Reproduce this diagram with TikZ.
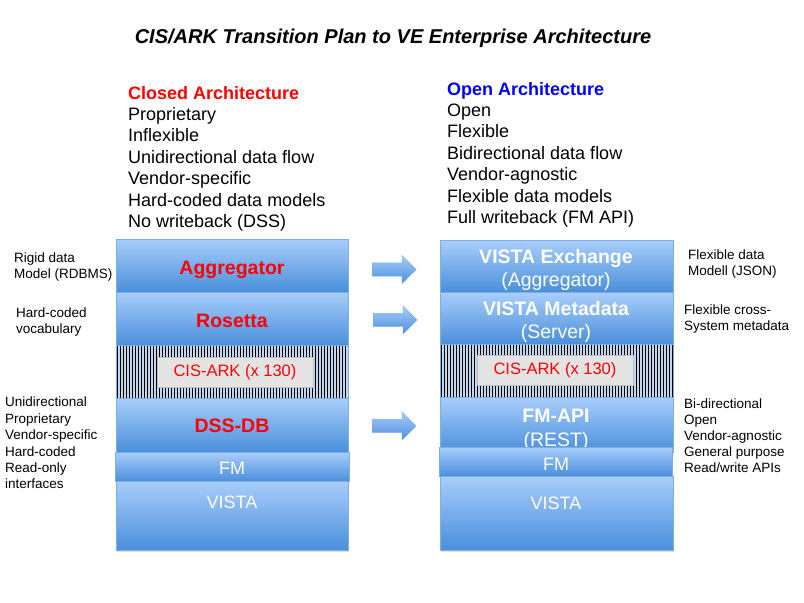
\documentclass[tikz,border=0pt]{standalone}
\usepackage{fontspec}
\setmainfont{Liberation Sans}
\usetikzlibrary{shapes.arrows,shadows,patterns.meta}

\definecolor{layertop}{HTML}{A8CDFB}
\definecolor{layerbot}{HTML}{4A8FDB}
\definecolor{layeredge}{HTML}{7FAEE3}
\definecolor{hatchbg}{HTML}{C2D6EE}
\definecolor{arkgray}{HTML}{E3E3E3}
\definecolor{openblue}{HTML}{0000FF}

\begin{document}
\begin{tikzpicture}[x=1pt,y=-1pt,
    layer/.style={draw=layeredge, top color=layertop, bottom color=layerbot,
        anchor=north west, inner sep=0pt, minimum width=232pt,
        drop shadow={shadow xshift=0.5pt, shadow yshift=-1.5pt, opacity=0.25}},
    oldtext/.style={anchor=base, inner sep=0pt, text=red, font=\fontsize{19.5}{22}\selectfont\bfseries},
    newtext/.style={anchor=base, inner sep=0pt, text=white, font=\fontsize{19.5}{22}\selectfont},
    basetext/.style={anchor=base, inner sep=0pt, text=white, font=\fontsize{18}{20}\selectfont},
    hatch/.style={draw=layeredge, preaction={fill=hatchbg},
        pattern={Lines[angle=90,distance=3pt,line width=0.9pt]},
        anchor=north west, inner sep=0pt, minimum width=232pt},
    arkbox/.style={draw=gray!50, fill=arkgray, text=red, inner sep=0pt,
        minimum width=156pt, minimum height=30pt, font=\fontsize{16.5}{18}\selectfont},
    listtext/.style={anchor=base west, inner sep=0pt, font=\fontsize{18}{20}\selectfont},
    note/.style={anchor=north west, inner sep=0pt, align=left, font=\fontsize{13.5}{15.5}\selectfont},
    blockarrow/.style={single arrow, draw=layeredge, top color=layertop, bottom color=layerbot,
        single arrow head extend=7.5pt, inner xsep=0pt, inner ysep=6.5pt,
        minimum height=44pt, anchor=west}
]
\fill[white] (0,0) rectangle (804,603);
\useasboundingbox (0,0) rectangle (804,603);

% title
\node[anchor=base, inner sep=0pt, font=\fontsize{20}{24}\selectfont\bfseries\itshape]
    (title) at (393,43) {CIS/ARK Transition Plan to VE Enterprise Architecture};

% closed architecture list
\node[listtext, text=red, font=\fontsize{18}{20}\selectfont\bfseries] (closed) at (128,99) {Closed Architecture};
\foreach \t [count=\i] in {Proprietary, Inflexible, Unidirectional data flow, Vendor-specific,
        Hard-coded data models, No writeback (DSS)}
    \node[listtext] (closed-\i) at (128,{99+21.4*\i}) {\t};

% open architecture list
\node[listtext, text=openblue, font=\fontsize{18}{20}\selectfont\bfseries] (open) at (447,95) {Open Architecture};
\foreach \t [count=\i] in {Open, Flexible, Bidirectional data flow, Vendor-agnostic,
        Flexible data models, Full writeback (FM API)}
    \node[listtext] (open-\i) at (447,{95+21.4*\i}) {\t};

% left stack
\node[layer, minimum height=53pt] (aggr) at (116,239) {};
\node[oldtext] (aggr-txt) at (232,274) {Aggregator};
\node[layer, minimum height=53pt] (rosetta) at (116,292) {};
\node[oldtext] (rosetta-txt) at (232,327) {Rosetta};
\node[hatch, minimum height=53pt] (hatchL) at (116,345) {};
\node[arkbox] (arkL) at (235,372) {CIS-ARK (x 130)};
\node[layer, minimum height=54pt] (dssdb) at (116,398) {};
\node[oldtext] (dssdb-txt) at (232,432) {DSS-DB};
\node[layer, minimum height=29pt, minimum width=234pt] (fmL) at (115,452) {};
\node[basetext] (fmL-txt) at (232,474) {FM};
\node[layer, minimum height=69pt] (vistaL) at (116,481) {};
\node[basetext] (vistaL-txt) at (232,508) {VISTA};

% right stack
\node[layer, minimum height=52pt, minimum width=233pt] (vxch) at (440,240) {};
\node[newtext, font=\fontsize{19.5}{22}\selectfont\bfseries] (vxch-txt) at (556,263) {VISTA Exchange};
\node[newtext] (vxch-sub) at (556,286) {(Aggregator)};
\node[layer, minimum height=52pt, minimum width=233pt] (vmeta) at (440,292) {};
\node[newtext, font=\fontsize{19.5}{22}\selectfont\bfseries] (vmeta-txt) at (556,315) {VISTA Metadata};
\node[newtext] (vmeta-sub) at (556,338) {(Server)};
\node[hatch, minimum height=53pt, minimum width=233pt] (hatchR) at (440,344) {};
\node[arkbox] (arkR) at (555,370.5) {CIS-ARK (x 130)};
\node[layer, minimum height=55pt, minimum width=233pt] (fmapi) at (440,397) {};
\node[newtext, font=\fontsize{19.5}{22}\selectfont\bfseries] (fmapi-txt) at (556,422) {FM-API};
\node[newtext] (fmapi-sub) at (556,446) {(REST)};
\node[layer, minimum height=29pt, minimum width=233pt] (fmR) at (439,447) {};
\node[basetext] (fmR-txt) at (556,470) {FM};
\node[layer, minimum height=74pt, minimum width=233pt] (vistaR) at (440,476) {};
\node[basetext] (vistaR-txt) at (556,509) {VISTA};

% transition arrows
\node[blockarrow] (arr1) at (372,269.5) {};
\node[blockarrow] (arr2) at (373,320) {};
\node[blockarrow] (arr3) at (372,426) {};

% side notes
\node[note] (rigid) at (14,253) {Rigid data\\Model (RDBMS)};
\node[note] (vocab) at (16,308) {Hard-coded\\vocabulary};
\node[note, font=\fontsize{13.5}{16.4}\selectfont] (closednotes) at (5,397)
    {Unidirectional\\Proprietary\\Vendor-specific\\Hard-coded\\Read-only\\interfaces};
\node[note] (flexdata) at (688,250) {Flexible data\\Modell (JSON)};
\node[note] (crossmeta) at (684,305) {Flexible cross-\\System metadata};
\node[note, font=\fontsize{13.5}{16}\selectfont] (opennotes) at (684,399)
    {Bi-directional\\Open\\Vendor-agnostic\\General purpose\\Read/write APIs};
\end{tikzpicture}
\end{document}
